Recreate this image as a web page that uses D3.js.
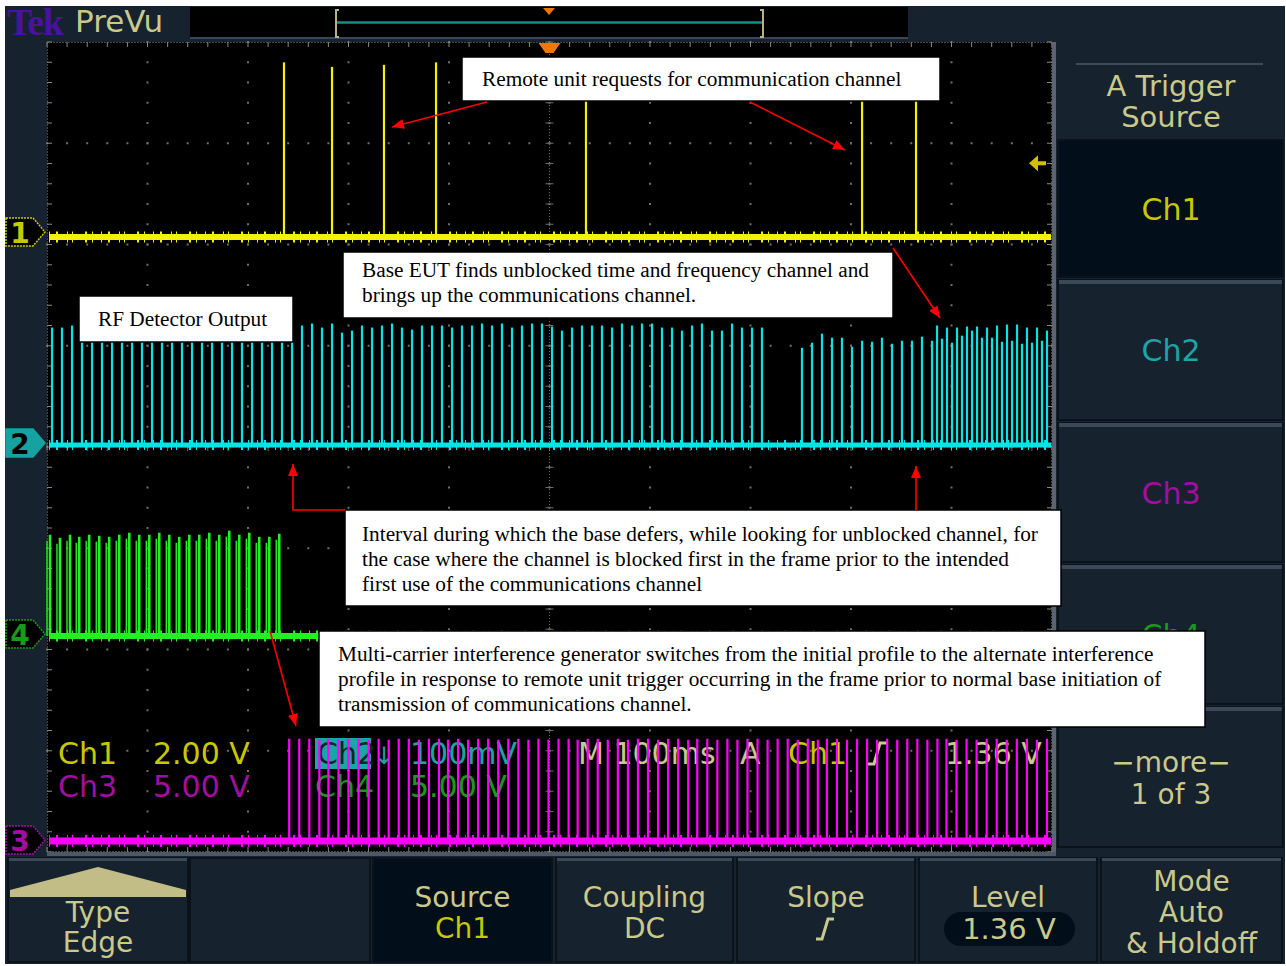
<!DOCTYPE html>
<html><head><meta charset="utf-8">
<script src="https://cdn.jsdelivr.net/npm/d3@7"></script>
<style>
html,body{margin:0;padding:0;background:#fff;}
svg{display:block;}
</style></head>
<body><svg id="c" width="1286" height="966"></svg>
<script>
// ---------------- DATA (time in ms from left of screen, 100 ms/div) ----------------
// Ch1 (2.00 V/div) – remote unit trigger pulses
const ch1Times = [235.8, 283.6, 335.3, 387.1, 536.3, 811.0, 864.7];
const ch1Volts = [3.45, 3.36, 3.40, 3.45, 3.45, 3.45, 3.45];

// Ch2 (100 mV/div) – RF detector output
const ch2Times = [5.0, 14.9, 24.9, 34.8, 44.8, 54.7, 64.7, 74.6, 84.6, 94.5,
  104.5, 114.4, 124.4, 134.3, 144.3, 154.2, 164.2, 174.1, 184.1, 194.0,
  204.0, 213.9, 223.9, 233.8, 243.8, 253.7, 263.7, 273.6, 283.6, 293.5,
  303.5, 313.4, 323.4, 333.3, 343.3, 353.2, 363.2, 373.1, 383.1, 393.0,
  403.0, 412.9, 422.9, 432.8, 442.8, 452.7, 462.7, 472.6, 482.6, 492.5,
  502.5, 512.4, 522.4, 532.3, 542.3, 552.2, 562.2, 572.1, 582.1, 592.0,
  602.0, 611.9, 621.9, 631.8, 641.8, 651.7, 661.7, 671.6, 681.6, 691.5,
  701.5, 711.4,
  751.2, 761.2, 771.1, 781.1, 791.0, 801.0, 811.0, 821.0, 830.8, 840.8,
  850.7, 860.7, 870.6, 880.6, 885.6, 890.5, 895.5, 900.5, 905.5, 910.4,
  915.4, 920.4, 925.4, 930.3, 935.3, 940.3, 945.3, 950.2, 955.2, 960.2,
  965.2, 970.1, 975.1, 980.1, 985.1, 990.0, 995.0];
const ch2mV = [116, 116, 118, 117, 118, 116, 117, 119, 118, 116,
  117, 118, 117, 116, 118, 117, 119, 117, 116, 118,
  117, 118, 116, 117, 118, 118, 120, 116, 120, 111,
  113, 118, 116, 118, 120, 116, 114, 118, 118, 118,
  116, 118, 118, 120, 118, 120, 116, 118, 120, 120,
  117, 113, 116, 118, 118, 118, 116, 120, 118, 120,
  120, 116, 116, 113, 118, 120, 113, 113, 120, 116,
  116, 116,
  96, 101, 110, 106, 106, 97, 103, 102, 106, 100,
  103, 103, 107, 103, 118, 105, 116, 101, 116, 108,
  117, 113, 117, 106, 116, 106, 118, 102, 119, 103,
  119, 100, 116, 101, 116, 103, 113];

// Ch4 (5.00 V/div) – initial interference profile
const ch4Times = [3.0, 12.9, 22.9, 32.1, 42.0, 52.0, 61.9, 71.9, 81.9, 91.8,
  101.8, 111.7, 121.7, 131.6, 141.6, 151.5, 161.5, 171.4, 181.4, 191.3,
  201.3, 211.2, 221.2, 231.1];
const ch4Volts = [5.0, 4.85, 5.0, 4.9, 5.0, 4.95, 4.9, 5.0, 5.1, 5.0,
  5.0, 5.1, 5.0, 4.9, 5.0, 5.0, 5.1, 5.0, 5.2, 5.0,
  5.1, 4.9, 4.9, 5.05];

// Ch3 (5.00 V/div) – alternate interference profile
const ch3Times = [241, 251, 261, 271, 280, 290, 300, 310, 320, 330,
  340, 350, 360, 370, 380, 390, 399, 409, 419, 429,
  439, 449, 459, 469, 479, 489, 499, 509, 519, 528,
  538, 548, 558, 568, 578, 588, 598, 608, 618, 628,
  638, 647, 657, 667, 677, 687, 697, 707, 717, 727,
  737, 747, 757, 767, 776, 786, 796, 806, 816, 826,
  836, 846, 856, 866, 876, 886, 895, 905, 915, 925,
  935, 945, 955, 965, 975, 985, 995];
const ch3Volts = [5.05, 5.05, 5.05, 5.0, 5.05, 5.0, 5.05, 5.05, 5.0, 5.05,
  5.0, 5.05, 5.05, 5.0, 5.05, 5.05, 5.0, 5.05, 5.0, 5.05,
  5.05, 5.0, 5.05, 5.05, 5.0, 5.05, 5.0, 5.05, 5.05, 5.0,
  5.05, 5.05, 5.0, 5.05, 5.0, 5.05, 5.05, 5.0, 5.05, 5.05,
  5.0, 5.05, 5.05, 5.0, 5.05, 5.0, 5.05, 5.05, 5.0, 5.05,
  5.05, 5.0, 5.05, 5.0, 5.05, 5.05, 5.0, 5.05, 5.05, 5.0,
  5.05, 5.0, 5.05, 5.05, 5.0, 5.05, 5.05, 5.0, 5.05, 5.0,
  5.05, 5.05, 5.0, 5.05, 5.05, 5.0, 5.05];

const triggerLevel = 1.36; // V on Ch1

// Text content
const annotations = [
  {box:[462,57,940,101], lines:["Remote unit requests for communication channel"], tx:482, ty:[86]},
  {box:[343,252,893,318], lines:["Base EUT finds unblocked time and frequency channel and","brings up the communications channel."], tx:362, ty:[277,302]},
  {box:[79,296,293,342], lines:["RF Detector Output"], tx:98, ty:[326]},
  {box:[345,510,1061,606], lines:["Interval during which the base defers, while looking for unblocked channel, for","the case where the channel is blocked first in the frame prior to the intended","first use of the communications channel"], tx:362, ty:[541,566,591]},
  {box:[319,631,1205,727], lines:["Multi-carrier interference generator switches from the initial profile to the alternate interference","profile in response to remote unit trigger occurring in the frame prior to normal base initiation of","transmission of communications channel."], tx:338, ty:[661,686,711]}
];

// ---------------- DRAW ----------------
const svg = d3.select("#c");
const NAVY = "#17222f", KHAKI = "#c9c98c", YEL = "#c8c800", TEAL = "#1aa6a6", MAG = "#a010a0", GRN = "#1a9a1a";
const SANS = "DejaVu Sans, Verdana, sans-serif";
const SERIF = "Liberation Serif, Times New Roman, serif";

const G = {x0:47, x1:1052, y0:42, y1:852};
const x = d3.scaleLinear().domain([0,1000]).range([G.x0, G.x1]);
const divPx = (G.y1 - G.y0) / 8;
const ch1Y = d3.scaleLinear().domain([0,2]).range([237, 237 - divPx]);
const ch2Y = d3.scaleLinear().domain([0,100]).range([445, 445 - divPx]);
const ch4Y = d3.scaleLinear().domain([0,5]).range([636, 636 - divPx]);
const ch3Y = d3.scaleLinear().domain([0,5]).range([841, 841 - divPx]);

// screen background
svg.append("rect").attr("x",5).attr("y",6).attr("width",1280).attr("height",958).attr("fill",NAVY);

// header
svg.append("text").attr("x",7).attr("y",35).attr("font-family",SERIF).attr("font-weight","bold")
  .attr("font-size",38).attr("fill","#4a12a0").attr("letter-spacing",-1.5).text("Tek");
svg.append("text").attr("x",75).attr("y",32).attr("font-family",SANS).attr("font-size",31)
  .attr("fill",KHAKI).text("PreVu");
svg.append("rect").attr("x",190).attr("y",7).attr("width",718).attr("height",31).attr("fill","#000");
svg.append("line").attr("x1",190).attr("x2",908).attr("y1",38).attr("y2",38).attr("stroke","#34495c").attr("stroke-width",2);
svg.append("line").attr("x1",336).attr("x2",763).attr("y1",22.5).attr("y2",22.5).attr("stroke","#148c8c").attr("stroke-width",2.5);
[[336,1],[763,-1]].forEach(([bx,d])=>{
  svg.append("path").attr("d",`M${bx+3*d},10 H${bx} V37 H${bx+3*d}`).attr("fill","none").attr("stroke","#b8b088").attr("stroke-width",2);
});
svg.append("path").attr("d","M543,8 L555,8 L549,15 Z").attr("fill","#f07800");

// graticule background
svg.append("rect").attr("x",G.x0).attr("y",G.y0).attr("width",G.x1-G.x0).attr("height",G.y1-G.y0).attr("fill","#000");

// grid via scales
const gx = d3.scaleLinear().domain([0,10]).range([G.x0,G.x1]);
const gy = d3.scaleLinear().domain([0,8]).range([G.y0,G.y1]);
const grid = svg.append("g");
const minor = d3.range(0,50.01,1).map(v=>v/5);
const minorY = d3.range(0,40.01,1).map(v=>v/5);
for (let i=1;i<10;i++){
  minorY.forEach(m=>grid.append("rect").attr("x",gx(i)-1).attr("y",gy(m)-1).attr("width",2).attr("height",2).attr("fill","#707060"));
}
for (let j=1;j<8;j++){
  minor.forEach(m=>grid.append("rect").attr("x",gx(m)-1).attr("y",gy(j)-1).attr("width",2).attr("height",2).attr("fill","#707060"));
}
grid.append("line").attr("x1",gx(5)).attr("x2",gx(5)).attr("y1",G.y0).attr("y2",G.y1).attr("stroke","#6e6e5e").attr("stroke-dasharray","1,2");
grid.append("line").attr("x1",G.x0).attr("x2",G.x1).attr("y1",gy(4)).attr("y2",gy(4)).attr("stroke","#6e6e5e").attr("stroke-dasharray","1,2");
minorY.forEach(m=>grid.append("line").attr("x1",gx(5)-4).attr("x2",gx(5)+4).attr("y1",gy(m)).attr("y2",gy(m)).attr("stroke","#6e6e5e"));
minor.forEach(m=>grid.append("line").attr("y1",gy(4)-4).attr("y2",gy(4)+4).attr("x1",gx(m)).attr("x2",gx(m)).attr("stroke","#6e6e5e"));
grid.append("rect").attr("x",G.x0+0.5).attr("y",G.y0+0.5).attr("width",G.x1-G.x0-1).attr("height",G.y1-G.y0-1)
  .attr("fill","none").attr("stroke","#8a8a7a").attr("stroke-dasharray","1,2");
minor.forEach(m=>{
  grid.append("line").attr("x1",gx(m)).attr("x2",gx(m)).attr("y1",G.y0).attr("y2",G.y0+5).attr("stroke","#8a8a7a");
  grid.append("line").attr("x1",gx(m)).attr("x2",gx(m)).attr("y1",G.y1-5).attr("y2",G.y1).attr("stroke","#8a8a7a");
});
minorY.forEach(m=>{
  grid.append("line").attr("x1",G.x0).attr("x2",G.x0+5).attr("y1",gy(m)).attr("y2",gy(m)).attr("stroke","#8a8a7a");
  grid.append("line").attr("x1",G.x1-5).attr("x2",G.x1).attr("y1",gy(m)).attr("y2",gy(m)).attr("stroke","#8a8a7a");
});
svg.append("rect").attr("x",G.x1).attr("y",G.y0).attr("width",4).attr("height",G.y1-G.y0).attr("fill","#5b6470");
svg.append("rect").attr("x",G.x0).attr("y",G.y1).attr("width",G.x1-G.x0+4).attr("height",4).attr("fill","#4d5866");

// trigger position marker
svg.append("path").attr("d",`M${gx(5)-11},43 L${gx(5)+11},43 L${gx(5)+4},53 L${gx(5)-4},53 Z`).attr("fill","#f07800");

// readout text (under the traces)
const rt = svg.append("g").attr("font-family",SANS).attr("font-size",30);
function T(xp,yp,s,c){ return rt.append("text").attr("x",xp).attr("y",yp).attr("fill",c).text(s); }
T(58,764,"Ch1",YEL); T(153,764,"2.00 V",YEL);
T(58,797,"Ch3",MAG); T(153,797,"5.00 V",MAG);
rt.append("rect").attr("x",315).attr("y",738).attr("width",56).attr("height",31).attr("fill",TEAL);
T(317,764,"Ch2","#0b2626");
T(374,764,"↓",TEAL).attr("font-size",24);
T(410,764,"100mV",TEAL);
T(315,797,"Ch4",GRN); T(410,797,"5.00 V",GRN);
T(578,764,"M 100ms",KHAKI);
T(740,764,"A",KHAKI);
T(788,764,"Ch1",YEL);
rt.append("path").attr("d","M868,764 h6 l6,-21 h7").attr("fill","none").attr("stroke",KHAKI).attr("stroke-width",3);
T(945,764,"1.36 V",KHAKI);

// traces
const channels = [
  {times:ch1Times, vals:ch1Volts, y:ch1Y, color:"#f2f200", w:2.2, band:6},
  {times:ch2Times, vals:ch2mV, y:ch2Y, color:"#00e6e6", w:2.2, band:5},
  {times:ch4Times, vals:ch4Volts, y:ch4Y, color:"#22f022", w:2.6, band:6, dbl:true},
  {times:ch3Times, vals:ch3Volts, y:ch3Y, color:"#ff00ff", w:2.2, band:7}
];
channels.forEach(ch=>{
  const g = svg.append("g");
  // noisy-looking baseline band (stroke pattern only)
  g.append("line").attr("x1",G.x0+2).attr("x2",G.x1-1).attr("y1",ch.y(0)).attr("y2",ch.y(0))
    .attr("stroke",ch.color).attr("stroke-width",ch.band+5).attr("stroke-dasharray","1,6,2,9,1,4,1,12,2,5,1,8");
  g.append("line").attr("x1",G.x0+2).attr("x2",G.x1-1).attr("y1",ch.y(0)).attr("y2",ch.y(0))
    .attr("stroke",ch.color).attr("stroke-width",ch.band);
  const d = ch.times.map((t,i)=>({t, v:ch.vals[i]}));
  if (ch.dbl){
    g.selectAll("line.p2").data(d).join("line").attr("class","p2")
      .attr("x1",p=>x(p.t)-3).attr("x2",p=>x(p.t)-3).attr("y1",ch.y(0)).attr("y2",p=>ch.y(p.v)+6)
      .attr("stroke",ch.color).attr("stroke-width",1.4);
  }
  g.selectAll("line.p").data(d).join("line").attr("class","p")
    .attr("x1",p=>x(p.t)).attr("x2",p=>x(p.t)).attr("y1",ch.y(0)).attr("y2",p=>ch.y(p.v))
    .attr("stroke",ch.color).attr("stroke-width",ch.w);
});

// trigger level arrow on right
const tl = ch1Y(triggerLevel) - 5;
svg.append("path").attr("d",`M1029,${tl} L1038,${tl-8} L1038,${tl-2} L1046,${tl-2} L1046,${tl+2} L1038,${tl+2} L1038,${tl+8} Z`).attr("fill","#d0c000");

// channel markers
const markers = [
  {y:232, fill:"#000", stroke:"#c8c800", tc:"#c8c800", t:"1"},
  {y:443, fill:"#17a2a2", stroke:"#17a2a2", tc:"#000", t:"2"},
  {y:634, fill:"#000", stroke:"#1a9a1a", tc:"#1a9a1a", t:"4"},
  {y:840, fill:"#000", stroke:"#a010a0", tc:"#a010a0", t:"3"}
];
markers.forEach(m=>{
  svg.append("path").attr("d",`M6,${m.y-14} H33 L45,${m.y} L33,${m.y+14} H6 Z`).attr("fill",m.fill)
    .attr("stroke",m.stroke).attr("stroke-width",1.5).attr("stroke-dasharray",m.fill==="#000"?"2,1":null);
  svg.append("text").attr("x",20).attr("y",m.y+11).attr("text-anchor","middle").attr("font-family",SANS)
    .attr("font-weight","bold").attr("font-size",28).attr("fill",m.tc).text(m.t);
});

// right menu
const rm = svg.append("g");
rm.append("line").attr("x1",1076).attr("x2",1263).attr("y1",64).attr("y2",64).attr("stroke","#3c4a5a").attr("stroke-width",2);
const rbtn = [
  {y0:140,y1:277,fill:"#020e19",label:["Ch1"],c:YEL},
  {y0:280,y1:420,fill:NAVY,label:["Ch2"],c:TEAL},
  {y0:423,y1:562,fill:NAVY,label:["Ch3"],c:MAG},
  {y0:565,y1:704,fill:NAVY,label:["Ch4"],c:GRN},
  {y0:707,y1:847,fill:NAVY,label:["\u2212more\u2212","1 of 3"],c:KHAKI}
];
rbtn.forEach(b=>{
  rm.append("rect").attr("x",1058).attr("y",b.y0).attr("width",225).attr("height",b.y1-b.y0)
    .attr("fill",b.fill).attr("stroke","#0a121c").attr("stroke-width",2);
  if (b.fill===NAVY) rm.append("rect").attr("x",1059).attr("y",b.y0).attr("width",223).attr("height",4).attr("fill","#3a4858");
  const cy = (b.y0+b.y1)/2;
  b.label.forEach((s,i)=>{
    const yy = b.label.length===1 ? cy+11 : cy-5+i*32;
    rm.append("text").attr("x",1171).attr("y",yy).attr("text-anchor","middle").attr("font-family",SANS)
      .attr("font-size",b.label.length===1?30:28).attr("fill",b.c).text(s);
  });
});
["A Trigger","Source"].forEach((s,i)=>rm.append("text").attr("x",1171).attr("y",96+i*31).attr("text-anchor","middle")
  .attr("font-family",SANS).attr("font-size",29).attr("fill",KHAKI).text(s));

// bottom menu
const bm = svg.append("g");
const bbtn = [
  {x0:8,x1:188,fill:NAVY,lines:["Type","Edge"],cols:[KHAKI,KHAKI],ys:[922,952]},
  {x0:190,x1:370,fill:NAVY,lines:[],cols:[],ys:[]},
  {x0:373,x1:552,fill:"#020e19",lines:["Source","Ch1"],cols:[KHAKI,YEL],ys:[907,938]},
  {x0:556,x1:733,fill:NAVY,lines:["Coupling","DC"],cols:[KHAKI,KHAKI],ys:[907,938]},
  {x0:737,x1:915,fill:NAVY,lines:["Slope"],cols:[KHAKI],ys:[907]},
  {x0:919,x1:1097,fill:NAVY,lines:["Level"],cols:[KHAKI],ys:[907]},
  {x0:1101,x1:1282,fill:NAVY,lines:["Mode","Auto","& Holdoff"],cols:[KHAKI,KHAKI,KHAKI],ys:[891,922,953]}
];
bbtn.forEach(b=>{
  bm.append("rect").attr("x",b.x0).attr("y",858).attr("width",b.x1-b.x0).attr("height",104)
    .attr("fill",b.fill).attr("stroke","#0a121c").attr("stroke-width",2);
  if (b.fill===NAVY && b.lines.length) bm.append("rect").attr("x",b.x0+1).attr("y",858).attr("width",b.x1-b.x0-2).attr("height",3).attr("fill","#3a4858");
  const cx=(b.x0+b.x1)/2;
  b.lines.forEach((s,i)=>bm.append("text").attr("x",cx).attr("y",b.ys[i]).attr("text-anchor","middle")
    .attr("font-family",SANS).attr("font-size",28).attr("fill",b.cols[i]).text(s));
});
bm.append("path").attr("d","M10,890 L98,867 L186,890 L186,897 L10,897 Z").attr("fill","#c2bd86");
bm.append("path").attr("d","M816,939 h6 l6,-20 h6").attr("fill","none").attr("stroke",KHAKI).attr("stroke-width",3);
bm.append("rect").attr("x",944).attr("y",912).attr("width",131).attr("height",34).attr("rx",17).attr("fill","#020e19");
bm.append("text").attr("x",1009).attr("y",939).attr("text-anchor","middle").attr("font-family",SANS)
  .attr("font-size",29).attr("fill",KHAKI).text("1.36 V");

// annotations
const an = svg.append("g");
annotations.forEach(a=>{
  const [bx0,by0,bx1,by1]=a.box;
  an.append("rect").attr("x",bx0).attr("y",by0).attr("width",bx1-bx0).attr("height",by1-by0)
    .attr("fill","#fff").attr("stroke","#000").attr("stroke-width",1.5);
  a.lines.forEach((s,i)=>an.append("text").attr("x",a.tx).attr("y",a.ty[i]).attr("font-family",SERIF)
    .attr("font-size",21.3).attr("fill","#000").text(s));
});

// red arrows
svg.append("defs").append("marker").attr("id","ah").attr("viewBox","0 0 12 10").attr("refX",12).attr("refY",5)
  .attr("markerWidth",12).attr("markerHeight",10).attr("markerUnits","userSpaceOnUse").attr("orient","auto")
  .append("path").attr("d","M0,0 L12,5 L0,10 Z").attr("fill","#ff0000");
const arrows = [
  [[487,102],[392,127]],
  [[750,102],[845,150]],
  [[893,248],[940,318]],
  [[345,510],[293,510],[293,464]],
  [[916,510],[916,466]],
  [[270,631],[296,726]]
];
arrows.forEach(pts=>{
  svg.append("path").attr("d",d3.line()(pts)).attr("fill","none").attr("stroke","#ff0000")
    .attr("stroke-width",1.6).attr("marker-end","url(#ah)");
});
</script>
</body></html>
